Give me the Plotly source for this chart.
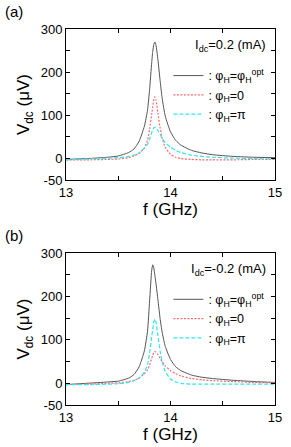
import plotly.graph_objects as go

# ---------------- data ----------------
freq = [13.0, 13.2, 13.4, 13.5, 13.6, 13.65, 13.7, 13.75, 13.78, 13.8, 13.82, 13.83,
        13.84, 13.85, 13.86, 13.88, 13.9, 13.92, 13.95, 14.0, 14.05, 14.1, 14.2,
        14.3, 14.4, 14.6, 14.8, 15.0]

# panel (a): Idc = 0.2 mA
a_opt = [-2, 0, 3, 6, 14, 22, 40, 75, 112, 160, 222, 248,
         264, 270, 264, 228, 182, 140, 98, 62, 42, 31, 19,
         13, 9, 5, 3, 2]
a_zero = [-3, -3, -2, -1, 2, 6, 12, 25, 42, 68, 103, 120,
          136, 143, 137, 105, 72, 48, 26, 10, 3, 0, -2,
          -3, -3, -3, -2, -2]
a_pi = [-3, -1, 1, 2, 5, 8, 13, 24, 33, 45, 60, 66,
        71, 73, 72, 65, 56, 47, 37, 26, 19, 14, 8,
        5, 3, 1, 0, -1]

# panel (b): Idc = -0.2 mA
b_opt = [-3, 0, 3, 5, 12, 20, 38, 75, 120, 190, 260, 273,
         266, 250, 232, 192, 150, 118, 85, 55, 38, 29, 19,
         14, 11, 7, 4, 2]
b_zero = [-3, -2, 0, 1, 4, 7, 12, 22, 31, 42, 57, 64,
          70, 73, 72, 66, 58, 50, 40, 29, 22, 17, 11,
          8, 6, 4, 2, 1]
b_pi = [-3, -3, -2, -1, 2, 6, 12, 26, 43, 70, 107, 124,
        141, 148, 142, 109, 75, 50, 27, 10, 3, 0, -2,
        -2, -2, -2, -2, -2]

x_tickvals = [13, 13.5, 14, 14.5, 15]
x_ticktext = ["13", "", "14", "", "15"]
y_tickvals = [-50, 0, 50, 100, 150, 200, 250, 300]
y_ticktext = ["-50", "0", "", "100", "", "200", "", "300"]

names = [": φ<sub>H</sub>=φ<sub>H</sub><sup>opt</sup>", ": φ<sub>H</sub>=0", ": φ<sub>H</sub>=π"]
idc_labels = ["I<sub>dc</sub>=0.2 (mA)", "I<sub>dc</sub>=-0.2 (mA)"]
panel_labels = ["(a)", "(b)"]

# ---------------- styles ----------------
FONT = "Liberation Sans, Arial, sans-serif"
styles = [dict(color="#555555", width=1, dash="solid"),
          dict(color="#ff6b6b", width=1.2, dash="2px,1.5px"),
          dict(color="#33e6f2", width=1.2, dash="4px,2px")]

fig = go.Figure()
panels = [(a_opt, a_zero, a_pi), (b_opt, b_zero, b_pi)]
for p, series in enumerate(panels):
    xa = "x" if p == 0 else "x2"
    ya = "y" if p == 0 else "y2"
    lg = "legend" if p == 0 else "legend2"
    for s, vals in enumerate(series):
        fig.add_trace(go.Scatter(x=freq, y=vals, mode="lines", name=names[s],
                                 line=dict(shape="spline", smoothing=0.5, **styles[s]),
                                 xaxis=xa, yaxis=ya, legend=lg))

axis_common = dict(showline=True, linecolor="black", linewidth=1, mirror="allticks",
                   ticks="inside", ticklen=4, tickcolor="black", showgrid=False,
                   zeroline=False, tickfont=dict(size=13, color="black", family=FONT))

doms = [[0.598, 1.0], [0.0, 0.404]]
for p in range(2):
    sfx = "" if p == 0 else "2"
    fig.layout["xaxis" + sfx] = dict(range=[13, 15], tickvals=x_tickvals, ticktext=x_ticktext,
                                     anchor="y" + sfx,
                                     title=dict(text="f (GHz)", font=dict(size=17, family=FONT, color="black"),
                                                standoff=2),
                                     **axis_common)
    fig.layout["yaxis" + sfx] = dict(range=[-50, 300], domain=doms[p], tickvals=y_tickvals,
                                     ticktext=y_ticktext, anchor="x" + sfx,
                                     title=dict(text="V<sub>dc</sub> (μV)",
                                                font=dict(size=17, family=FONT, color="black"),
                                                standoff=6),
                                     **axis_common)

legend_common = dict(bgcolor="rgba(0,0,0,0)", font=dict(size=12.5, family=FONT, color="black"),
                     xanchor="left", yanchor="top", itemwidth=30, tracegroupgap=0,
                     borderwidth=0)
fig.update_layout(
    legend=dict(x=0.49, y=0.915, **legend_common),
    legend2=dict(x=0.49, y=0.32, **legend_common),
)

ann = []
for p in range(2):
    ytop = doms[p][1]
    ann.append(dict(text=idc_labels[p], xref="paper", yref="paper", x=0.965, y=ytop - 0.015,
                    xanchor="right", yanchor="top", showarrow=False,
                    font=dict(size=13, family=FONT, color="black")))
    ann.append(dict(text=panel_labels[p], xref="paper", yref="paper", x=-0.30,
                    y=ytop + 0.075, xanchor="left", yanchor="top", showarrow=False,
                    font=dict(size=15, family=FONT, color="black")))
fig.update_layout(annotations=ann)

fig.update_layout(width=291, height=447, margin=dict(l=66, r=9, t=29, b=37),
                  paper_bgcolor="white", plot_bgcolor="white", showlegend=True,
                  font=dict(family=FONT, color="black"))

fig.write_html("out.html", config={"displayModeBar": False},
               post_script="document.body.style.margin='0';document.body.style.overflow='hidden';")
